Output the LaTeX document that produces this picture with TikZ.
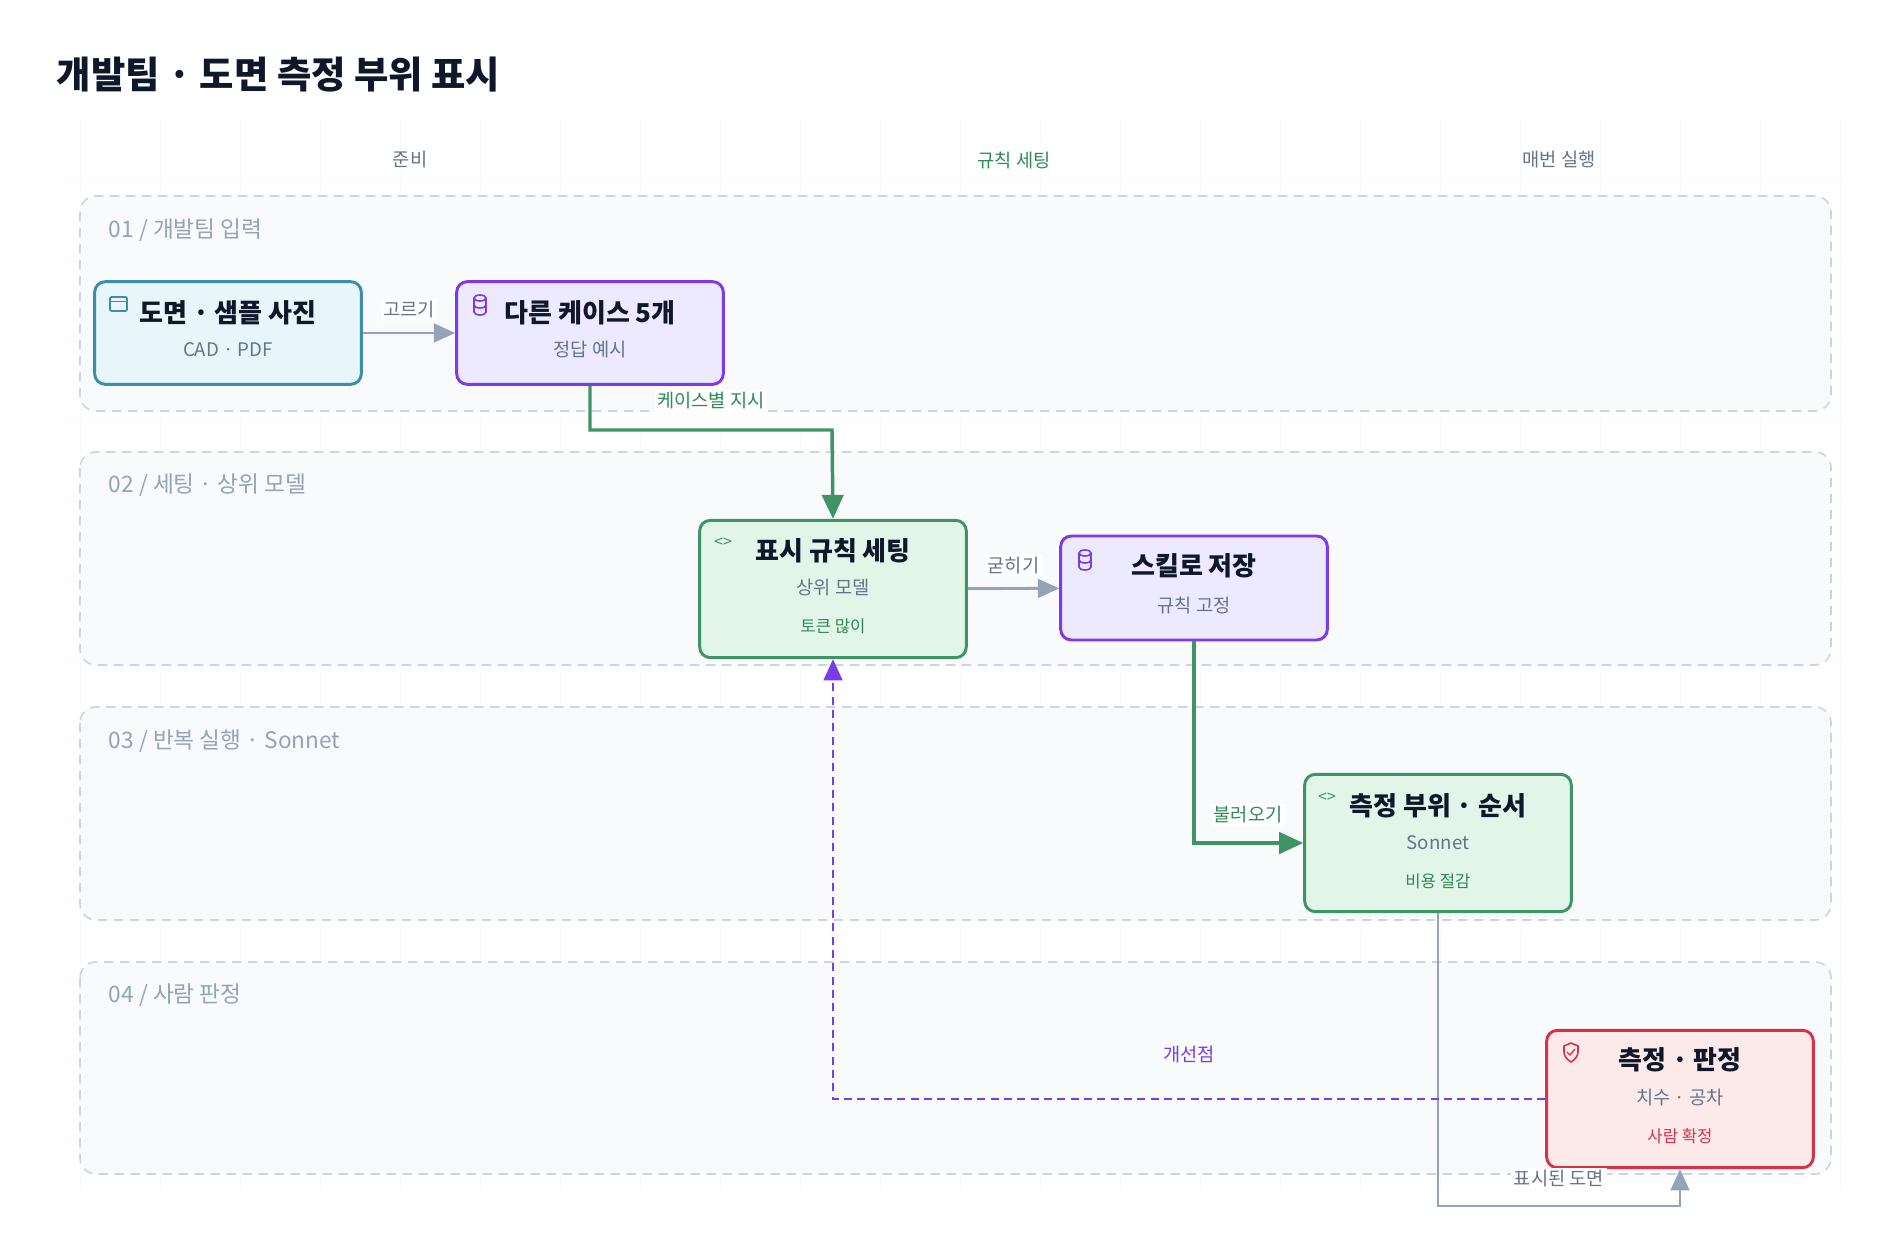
\documentclass[tikz,border=0pt]{standalone}
\usepackage{fontspec}
\setmainfont{Noto Sans CJK KR}
\usetikzlibrary{arrows.meta}
\definecolor{lanefill}{HTML}{F8FAFC}
\definecolor{lanedraw}{HTML}{CBD5E1}
\definecolor{lanetext}{HTML}{94A3B8}
\definecolor{subtext}{HTML}{64748B}
\definecolor{inkdark}{HTML}{0F172A}
\definecolor{bluedraw}{HTML}{3B8EAE}
\definecolor{bluefill}{HTML}{E8F6FB}
\definecolor{purpdraw}{HTML}{7C3AED}
\definecolor{purpfill}{HTML}{EDE9FE}
\definecolor{greendraw}{HTML}{3F9466}
\definecolor{greenfill}{HTML}{E3F5E9}
\definecolor{greentext}{HTML}{2F8A55}
\definecolor{reddraw}{HTML}{D6334A}
\definecolor{redfill}{HTML}{FCE9EA}
\definecolor{graywire}{HTML}{94A3B8}

\tikzset{every picture/.style={line width=0.75pt}}
\tikzset{
  lane/.style={draw=lanedraw, fill=lanefill, dash pattern={on 7pt off 5pt}, rounded corners=12pt, line width=1.2pt},
  lanelabel/.style={anchor=west, text=lanetext, font=\fontsize{17}{20}\selectfont},
  colhead/.style={font=\fontsize{14}{17}\selectfont},
  card/.style={rounded corners=8pt, line width=2.2pt, minimum width=200pt, align=center},
  title/.style={font=\bfseries\fontsize{19.5}{24}\selectfont, text=inkdark},
  sub/.style={font=\fontsize{14}{17}\selectfont, text=subtext},
  note/.style={font=\fontsize{12.5}{15}\selectfont},
  edgelabel/.style={fill=white, inner sep=2pt, font=\fontsize{14}{17}\selectfont},
  codeicon/.style={text=greendraw, font=\fontsize{12}{14}\selectfont},
  wire/.style={draw=graywire, line width=2.2pt, -{Triangle[length=16pt,width=14pt]}},
  greenwire/.style={draw=greendraw, line width=2.6pt, -{Triangle[length=18pt,width=16pt]}},
  backwire/.style={draw=purpdraw, line width=2.2pt, dash pattern={on 6pt off 4pt}, -{Triangle[length=16pt,width=14pt]}}
}
\newcommand{\dbicon}[1]{%
  \draw[purpdraw, line width=1.2pt] (#1) ++(-6,-7) -- ++(0,14) arc[start angle=180,end angle=360,x radius=6,y radius=-3] -- ++(0,-14);
  \draw[purpdraw, line width=1.2pt] (#1) ++(0,-7) ellipse (6 and 3);
  \draw[purpdraw, line width=1.2pt] (#1) ++(-6,0) arc[start angle=180,end angle=360,x radius=6,y radius=-3];
}

\begin{document}
\begin{tikzpicture}[x=0.75pt,y=0.75pt,yscale=-1,xscale=1]
        \path[fill=white] (0,0) rectangle (1879,1259);
        \useasboundingbox (0,0) rectangle (1879,1259);

        % faint grid
        \foreach \gx in {80,160,...,1840} {\draw[draw=lanefill!60!lanedraw!25, line width=0.6pt] (\gx,120) -- (\gx,1190);}
        \foreach \gy in {180,260,...,1180} {\draw[draw=lanefill!60!lanedraw!25, line width=0.6pt] (60,\gy) -- (1850,\gy);}

        % Title
        \node[anchor=west, font=\bfseries\fontsize{28}{32}\selectfont, text=inkdark] (ttl) at (52,75) {개발팀 · 도면 측정 부위 표시};

        % Column headers
        \node[colhead, text=subtext] (colprep) at (410,160) {준비};
        \node[colhead, text=greentext] (colrule) at (1014,160) {규칙 세팅};
        \node[colhead, text=subtext] (colrun) at (1559,160) {매번 실행};

        % Lanes
        \draw[lane] (80,196) rectangle (1831,411);
        \draw[lane] (80,452) rectangle (1831,665);
        \draw[lane] (80,707) rectangle (1831,920);
        \draw[lane] (80,962) rectangle (1831,1174);
        \node[lanelabel] (lane1) at (104,230) {01 / 개발팀 입력};
        \node[lanelabel] (lane2) at (104,485) {02 / 세팅 · 상위 모델};
        \node[lanelabel] (lane3) at (104,741) {03 / 반복 실행 · Sonnet};
        \node[lanelabel] (lane4) at (104,995) {04 / 사람 판정};

        % Cards
        \node[card, draw=bluedraw, fill=bluefill, minimum height=77pt] (photo) at (228,333) {};
        \node[title] at (228,313) {도면 · 샘플 사진};
        \node[sub] at (228,350) {CAD · PDF};
        \draw[bluedraw, line width=1.2pt, rounded corners=1pt] (110,297) rectangle (127,311);
        \draw[bluedraw, line width=1.2pt] (110,301.5) -- (127,301.5);

        \node[card, draw=purpdraw, fill=purpfill, minimum height=77pt] (cases) at (590,333) {};
        \node[title] at (590,313) {다른 케이스 5개};
        \node[sub] at (590,350) {정답 예시};
        \dbicon{480,305}

        \node[card, draw=greendraw, fill=greenfill, minimum height=103pt] (rules) at (833,589) {};
        \node[title] at (833,551) {표시 규칙 세팅};
        \node[sub] at (833,588) {상위 모델};
        \node[note, text=greentext] at (833,626) {토큰 많이};
        \node[codeicon] at (723,543) {<>};

        \node[card, draw=purpdraw, fill=purpfill, minimum height=78pt] (skill) at (1194,588) {};
        \node[title] at (1194,566) {스킬로 저장};
        \node[sub] at (1194,605) {규칙 고정};
        \dbicon{1085,560}

        \node[card, draw=greendraw, fill=greenfill, minimum height=103pt] (measure) at (1438,843) {};
        \node[title] at (1438,806) {측정 부위 · 순서};
        \node[sub] at (1438,843) {Sonnet};
        \node[note, text=greentext] at (1438,881) {비용 절감};
        \node[codeicon] at (1327,798) {<>};

        \node[card, draw=reddraw, fill=redfill, minimum height=103pt] (judge) at (1680,1099) {};
        \node[title] at (1680,1060) {측정 · 판정};
        \node[sub] at (1680,1098) {치수 · 공차};
        \node[note, text=reddraw] at (1680,1136) {사람 확정};
        \draw[reddraw, line width=1.2pt] (1564,1046) -- (1571,1043) -- (1578,1046) -- (1578,1052) .. controls (1578,1057) and (1574,1060) .. (1571,1062) .. controls (1568,1060) and (1564,1057) .. (1564,1052) -- cycle;
        \draw[reddraw, line width=1pt] (1567,1052) -- (1570,1055) -- (1575,1049);

        % Connectors
        \draw[wire] (photo) -- (cases) node[midway, above, edgelabel, text=subtext, yshift=8pt] {고르기};
        \draw[greenwire] (cases.south) |- (832,430) -- (rules.north);
        \node[edgelabel, text=greentext] (lblcase) at (711,401) {케이스별 지시};
        \draw[wire] (rules) -- (skill) node[midway, above, edgelabel, text=subtext, yshift=8pt] {굳히기};
        \draw[greenwire] (skill.south) |- (measure.west);
        \node[edgelabel, text=greentext] (lblload) at (1248,815) {불러오기};
        \draw[wire] (measure.south) |- (1680,1206) -- (judge.south);
        \node[edgelabel, text=subtext] (lblshown) at (1559,1179) {표시된 도면};
        \draw[backwire] (judge.west) -| (rules.south);
        \node[edgelabel, text=purpdraw, fill=none] (lblfix) at (1189,1055) {개선점};
\end{tikzpicture}
\end{document}
